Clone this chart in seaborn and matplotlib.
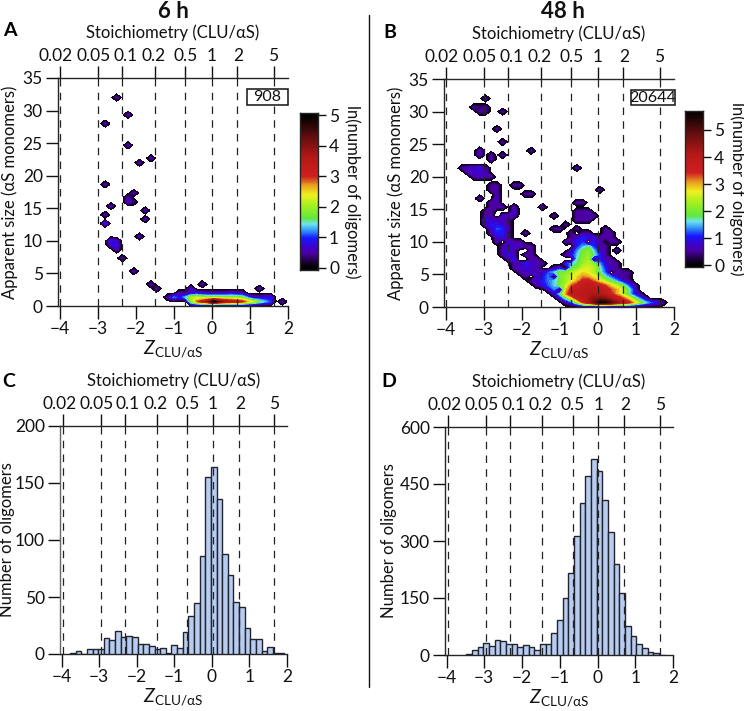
import numpy as np
import pandas as pd
import matplotlib
matplotlib.use("Agg")
import matplotlib.pyplot as plt
from matplotlib.colors import LinearSegmentedColormap
from matplotlib.patches import Rectangle
from matplotlib.transforms import ScaledTranslation
import seaborn as sns

# ---------- data ----------
stoich_labels = ["0.02", "0.05", "0.1", "0.2", "0.5", "1", "2", "5"]
stoich_z_upper = [-4.0, -3.0, -2.35, -1.5, -0.7, 0.0, 0.66, 1.62]
stoich_z_lower = [-3.95, -2.95, -2.31, -1.46, -0.65, 0.02, 0.71, 1.65]
z_ticks = [-4, -3, -2, -1, 0, 1, 2]

# histogram C
c_z = [-3.7, -3.55, -3.4, -3.25, -3.1, -2.95, -2.8, -2.65, -2.5, -2.35, -2.2, -2.05, -1.9, -1.75, -1.6, -1.45,
       -1.3, -1.15, -1.0, -0.85, -0.7, -0.55, -0.4, -0.25, -0.1, 0.05, 0.2, 0.35, 0.5, 0.65, 0.8, 0.95, 1.1,
       1.25, 1.4, 1.55, 1.7, 1.85]
c_n = [0.5, 3, 0, 4, 4, 4, 14, 12, 20, 15, 16, 15, 9, 9, 7, 4, 5, 1, 8, 5, 19, 33, 45, 86, 155, 164, 136, 88,
       69, 46, 41, 23, 13, 13, 3, 6, 0.5, 1]
# histogram D
d_z = [-3.4, -3.25, -3.1, -2.95, -2.8, -2.65, -2.5, -2.35, -2.2, -2.05, -1.9, -1.75, -1.6, -1.45, -1.3, -1.15,
       -1.0, -0.85, -0.7, -0.55, -0.4, -0.25, -0.1, 0.05, 0.2, 0.35, 0.5, 0.65, 0.8, 0.95, 1.1, 1.25, 1.4,
       1.55, 1.7]
d_n = [2, 13, 22, 32, 25, 39, 36, 29, 28, 20, 26, 21, 14, 28, 30, 57, 93, 150, 217, 312, 400, 470, 515, 483,
       408, 325, 240, 163, 77, 50, 28, 18, 8, 4, 1]

# panel A: sparse cells (row number, first z, ln counts along z)
a_row = [48, 44, 42, 37, 34, 33, 28, 26, 25, 24, 24, 23, 22, 21, 20, 19, 16, 15, 15, 14, 14, 13, 11, 8, 5, 4,
         4, 5, 4, 1, 2, 3]
a_start = [-2.5, -2.2, -2.8, -2.2, -1.6, -1.9, -2.8, -2.05, -2.2, -2.2, -2.05, -2.65, -1.75, -2.8, -1.75, -2.8,
           -1.9, -2.65, -2.5, -2.65, -2.5, -2.5, -2.35, -2.05, -1.6, -1.45, -0.55, -0.25, 1.25, -0.55, -1.15,
           -0.85]
a_vals = [[.5], [.5], [.5], [.5], [.5], [.5], [.5], [.5], [.5], [.7], [.3], [.5], [.5], [.5], [.5], [.9], [.5],
          [.9], [.6], [.6], [.9], [.5], [.5], [.5], [.5], [.5], [.7], [.5], [.5],
          [1.8, 2.8, 3.3, 4.0, 5.0, 4.2, 3.8, 3.6, 3.4, 3.1, 2.6, 2.2, 1.7, 1.3, 1.0],
          [.5, 1.2, .8, 1.3, 2.0, 2.2, 2.0, 1.9, 1.9, 1.9, 1.8, 1.8, 1.8, 1.7, 1.1, .6, .6, .7, .8],
          [.5, .3, .6, .7, .6, .5, .5, .5, .5, .7, .5, .5]]
a_extra_row = [1]
a_extra_start = [1.85]
a_extra_vals = [[.5]]

# panel B: cells by row
b_row = [1, 2, 3, 4, 5, 6, 7, 8,
         9, 9, 10, 10, 11, 11, 12, 12, 13, 13, 14, 14, 15, 15, 16, 16,
         17, 17, 17, 17, 18, 18, 18, 18, 19, 19, 20, 20, 21, 21, 21, 21, 22, 22, 22, 23, 23, 23, 24, 24, 25, 25,
         26, 26, 27, 27, 28, 28, 30, 31, 32, 32, 34, 35, 35, 35, 36, 36, 38, 41, 45, 45, 46, 48]
b_start = [-0.85, -1.0, -1.15, -1.3, -1.6, -1.75, -1.9, -2.05,
           -2.2, -1.15, -2.2, -1.0, -2.35, -0.85, -2.5, -0.85, -2.5, -0.7, -2.5, -0.7, -2.65, -0.85, -2.65, -0.85,
           -2.8, -1.9, -0.7, 0.2, -2.8, -1.15, -0.55, 0.2, -2.95, -1.0, -2.95, -0.55, -2.95, -2.2, -1.15, -0.55,
           -2.95, -2.2, -0.55, -2.8, -2.2, -1.45, -2.8, -0.55, -3.1, -2.65,
           -2.65, -1.9, -2.8, 0.05, -2.8, -2.2, -3.25, -3.4, -3.55, -0.55, -2.8, -3.1, -2.8, -2.5, -3.1, -1.75,
           -2.5, -2.65, -3.1, -2.5, -3.25, -2.95]
b_vals = [
    [.5, 1.0, 2.0, 3.3, 4.0, 4.8, 5.6, 5.5, 5.0, 4.5, 4.1, 3.6, 3.0, 2.2, 1.6, 1.2, 1.0, .5],
    [.7, 1.6, 2.6, 3.6, 3.9, 4.2, 4.5, 4.6, 4.5, 4.2, 3.8, 3.4, 2.8, 2.0, 1.3, .6],
    [.6, 1.6, 3.0, 3.8, 3.9, 4.0, 4.1, 4.2, 4.1, 3.9, 3.5, 3.0, 2.5, 1.7, 1.0, .5],
    [.7, 1.3, 2.2, 2.8, 3.5, 3.8, 3.9, 4.0, 4.0, 3.9, 3.7, 3.3, 3.0, 2.5, 1.8, 1.0],
    [.5, .9, 1.2, 1.5, 2.0, 2.4, 3.2, 3.5, 3.7, 3.9, 3.8, 3.6, 3.3, 2.8, 2.4, 1.9, 1.2],
    [.5, .7, 1.0, 1.3, 1.5, 1.9, 2.2, 2.6, 3.0, 3.5, 3.6, 3.2, 2.8, 2.3, 1.8, 1.4, .9, .5],
    [.5, .6, .7, 1.0, 1.3, 1.6, 2.0, 2.2, 2.5, 2.8, 3.1, 3.0, 2.7, 2.2, 1.6, 1.2, .8, .5, .4],
    [.5, .6, .8, .6, .7, 1.2, 1.5, 2.0, 2.1, 2.3, 2.6, 2.8, 2.7, 2.3, 1.7, 1.2, .8, .5, .5, .5],
    [.5, .7, .8, .7, .5], [.5, .9, 1.3, 1.7, 2.0, 2.5, 2.6, 2.4, 1.7, 1.0, .7, .5],
    [.5, .7, 1.0, .8, .6, .5], [.5, 1.0, 1.4, 1.8, 2.2, 2.4, 2.1, 1.4, .8, .5, .5],
    [.5, 1.0, 1.0, .8, .5, .5], [.5, 1.0, 1.6, 2.1, 2.3, 1.9, 1.0, .6, .5],
    [.5, .9, .6, -.1, .5, .5], [.5, .9, 1.5, 2.0, 2.2, 1.7, 1.0, .5],
    [.6, 1.0, .5, -.1, .5, .5], [.7, 1.3, 1.9, 2.1, 1.5, .8, .5, -.1, .5],
    [.5, .9, .7, .7, .5, .5], [.5, 1.0, 1.4, 1.7, 1.0, .6, .5],
    [.6, .9, .7, .5, .5], [.5, .5, 1.0, 1.1, 1.1, 1.0, .5, -.1, .5, .5],
    [.7, .9, .5], [.5, .5, .7, 1.0, .9, .8, .5, .5, .5],
    [.6, 1.0, 1.0, .5], [.5], [.5, .5, .5, .5], [.5, .5],
    [.7, 1.2, 1.1, .5], [.5, .5], [.5], [.5],
    [.7, 1.0, .9, .7, .5], [.5, .5], [1.0, .7, .7, .6, .5], [.5, .5, .5],
    [.5, .5, -.1, .6, .7, .5], [.6], [.5], [.5, .5, .5, .5],
    [.5, .5], [.8], [.5, .5, .5],
    [.5, .5, .5], [.6], [.5],
    [.6, .5], [.5, .5], [.5], [.7],
    [.6], [.5, .5], [.5, .5], [.5],
    [.5, .5], [.5, .5],
    [.5, .7, .6, .5], [.6, .7, .8, .6], [.5, .7, .7, .9, .6], [.5],
    [.6], [.7], [.5], [.5], [.7], [.5], [.5], [.5], [.5, .5], [.5], [.5, .3, .5], [.5],
]
b_extra_row = [5]
b_extra_start = [0.95]
b_extra_vals = [[.7]]
# empty cells inside the populated region of panel B
b_empty_row = [4, 9, 11, 11, 10, 7, 7, 11, 11, 15, 16, 15, 15, 11, 8, 19, 21, 13, 14, 17]
b_empty_z = [-1.0, -0.85, -0.7, -0.85, -1.0, -1.15, -1.75, -2.05, -1.9, -2.5, -0.85, -1.0,
             -0.25, -0.1, 0.35, -1.0, -2.65, -1.9, -0.7, -0.55]

# ---------- style ----------
sns.set_theme(style="ticks")
FONT = "Lato"
plt.rcParams.update({
    "font.family": [FONT, "DejaVu Sans"], "mathtext.fontset": "custom", "mathtext.rm": FONT,
    "mathtext.it": FONT + ":italic", "text.color": "#111111", "axes.labelcolor": "#111111",
    "xtick.color": "#111111", "ytick.color": "#111111", "axes.linewidth": 1.0,
})
W, H = 744, 711
fig = plt.figure(figsize=(W / 100, H / 100), dpi=100)

cmap = LinearSegmentedColormap.from_list("igor", [
    (0.00, "#000000"), (0.035, "#1c0038"), (0.09, "#4c00a4"), (0.13, "#4000c8"), (0.19, "#1818ff"),
    (0.24, "#3090f8"), (0.285, "#70e4f0"), (0.32, "#60e840"), (0.40, "#a0f020"), (0.48, "#f0f020"),
    (0.54, "#e8a020"), (0.60, "#d02020"), (0.72, "#b81818"), (0.84, "#701010"), (1.00, "#000000")])

STEP_Z, STEP_Y = 0.15, 2 / 3
grid_z = -3.7 + STEP_Z * np.arange(39)
grid_y = STEP_Y * np.arange(52)


def build(rows, starts, vals, empty_rows=(), empty_z=()):
    g = np.full((len(grid_y), len(grid_z)), -0.1)
    for r, s, v in zip(rows, starts, vals):
        j = int(round((s - grid_z[0]) / STEP_Z))
        for i, x in enumerate(v):
            if x > g[r, j + i]:
                g[r, j + i] = x
    for r, s in zip(empty_rows, empty_z):
        g[r, int(round((s - grid_z[0]) / STEP_Z))] = -0.4
    return g


def axes_px(l, t, r, b):
    return fig.add_axes([l / W, 1 - b / H, (r - l) / W, (b - t) / H])


def style(ax, top_z, ylim, yticks, ylabel, label_x):
    ax.set_xlim(-4.04, 2)
    ax.set_ylim(*ylim)
    ax.set_xticks(z_ticks)
    ax.set_yticks(yticks)
    ax.tick_params(axis="both", length=9, width=1.0, labelsize=12.5, pad=2)
    ax.spines["right"].set_visible(False)
    ax.spines["top"].set_visible(True)
    ax.set_xlabel(r"$\mathit{Z}_{\mathrm{CLU/αS}}$", fontsize=14, labelpad=1)
    ax.set_ylabel(ylabel, fontsize=12)
    ax.yaxis.set_label_coords(label_x, 0.5)
    for z in top_z:
        ax.axvline(z, color="#222222", lw=0.9, dashes=(6, 5), zorder=5)
    sec = ax.secondary_xaxis("top")
    sec.set_xticks(top_z)
    sec.set_xticklabels(stoich_labels)
    sec.tick_params(axis="x", length=9, width=1.0, labelsize=12.5, pad=1)
    sec.spines["top"].set_visible(False)
    shifts = [-3, -3, 2, -1, 0, 0, 1, 0]
    for lab, dx in zip(sec.get_xticklabels(), shifts):
        lab.set_transform(lab.get_transform() + ScaledTranslation(dx / 72, 0, fig.dpi_scale_trans))
    sec.set_xlabel("Stoichiometry (CLU/αS)", fontsize=12, labelpad=7)


def heat(ax, grid, vmax, cbar_px, cbar_lim, cbar_ticks, box_txt, box_rect):
    levels = np.linspace(0, vmax, 60)
    ax.contourf(grid_z, grid_y, grid, levels=levels, cmap=cmap, vmin=0, vmax=vmax, extend="max")
    cax = axes_px(*cbar_px)
    vals = np.linspace(cbar_lim[0], cbar_lim[1], 256)[:, None]
    cax.imshow(vals, aspect="auto", origin="lower", cmap=cmap, vmin=0, vmax=vmax,
               extent=[0, 1, cbar_lim[0], cbar_lim[1]])
    cax.set_xticks([])
    cax.yaxis.tick_right()
    cax.set_yticks(cbar_ticks)
    cax.tick_params(axis="y", length=6, width=1.0, labelsize=12.5, pad=2)
    for s in cax.spines.values():
        s.set_visible(True)
    cax.yaxis.set_label_position("right")
    cax.set_ylabel("ln(number of oligomers)", fontsize=12, rotation=-90, labelpad=15)
    z0, z1, y0, y1 = box_rect
    ax.add_patch(Rectangle((z0, y0), z1 - z0, y1 - y0, fc="white", ec="#111111", lw=1.1, clip_on=False, zorder=6))
    ax.text((z0 + z1) / 2, (y0 + y1) / 2, box_txt, ha="center", va="center", fontsize=11.5, zorder=7)


def hist(ax, z, n):
    frame = pd.DataFrame({"z": z, "n": n})
    sns.barplot(data=frame, x="z", y="n", native_scale=True, width=1.0, ax=ax, color="#b8ccf0",
                saturation=1, edgecolor="#20242e", linewidth=1.0, zorder=3)


# ---------- panels ----------
ax_a = axes_px(58, 78, 288, 306)
heat(ax_a, build(a_row + a_extra_row, a_start + a_extra_start, a_vals + a_extra_vals), 5.0,
     (300, 113, 318, 270), (-0.08, 5.08), [0, 1, 2, 3, 4, 5], "908", (0.92, 2.0, 30.9, 33.3))
style(ax_a, stoich_z_upper, (0, 35), range(0, 36, 5), "Apparent size (αS monomers)", -0.175)

ax_b = axes_px(444, 79, 674, 307)
heat(ax_b, build(b_row + b_extra_row, b_start + b_extra_start, b_vals + b_extra_vals, b_empty_row, b_empty_z), 5.7,
     (685, 111, 703, 267), (-0.06, 5.7), [0, 1, 2, 3, 4, 5], "20644", (0.87, 2.03, 31.0, 33.3))
style(ax_b, stoich_z_upper, (0, 35), range(0, 36, 5), "Apparent size (αS monomers)", -0.175)

ax_c = axes_px(60, 426, 287, 654)
hist(ax_c, c_z, c_n)
style(ax_c, stoich_z_lower, (0, 200), range(0, 201, 50), "Number of oligomers", -0.2)
ax_c.spines["left"].set_color("#666666")

ax_d = axes_px(445, 427, 673, 655)
hist(ax_d, d_z, d_n)
style(ax_d, stoich_z_lower, (0, 600), range(0, 601, 150), "Number of oligomers", -0.21)

# ---------- figure texts ----------
fig.text(173 / W, 1 - 18 / H, "6 h", ha="center", va="baseline", fontsize=16, fontweight="bold")
fig.text(563 / W, 1 - 18 / H, "48 h", ha="center", va="baseline", fontsize=16, fontweight="bold")
for s, x, y in [("A", 10, 31), ("B", 390, 32), ("C", 9, 382), ("D", 389, 382)]:
    fig.text(x / W, 1 - y / H, s, ha="center", va="center", fontsize=14, fontweight="bold", color="black")
fig.add_artist(plt.Line2D([369 / W, 369 / W], [1 - 15 / H, 1 - 687 / H], color="#111111", lw=1.0))

fig.savefig("out.png", dpi=100)
